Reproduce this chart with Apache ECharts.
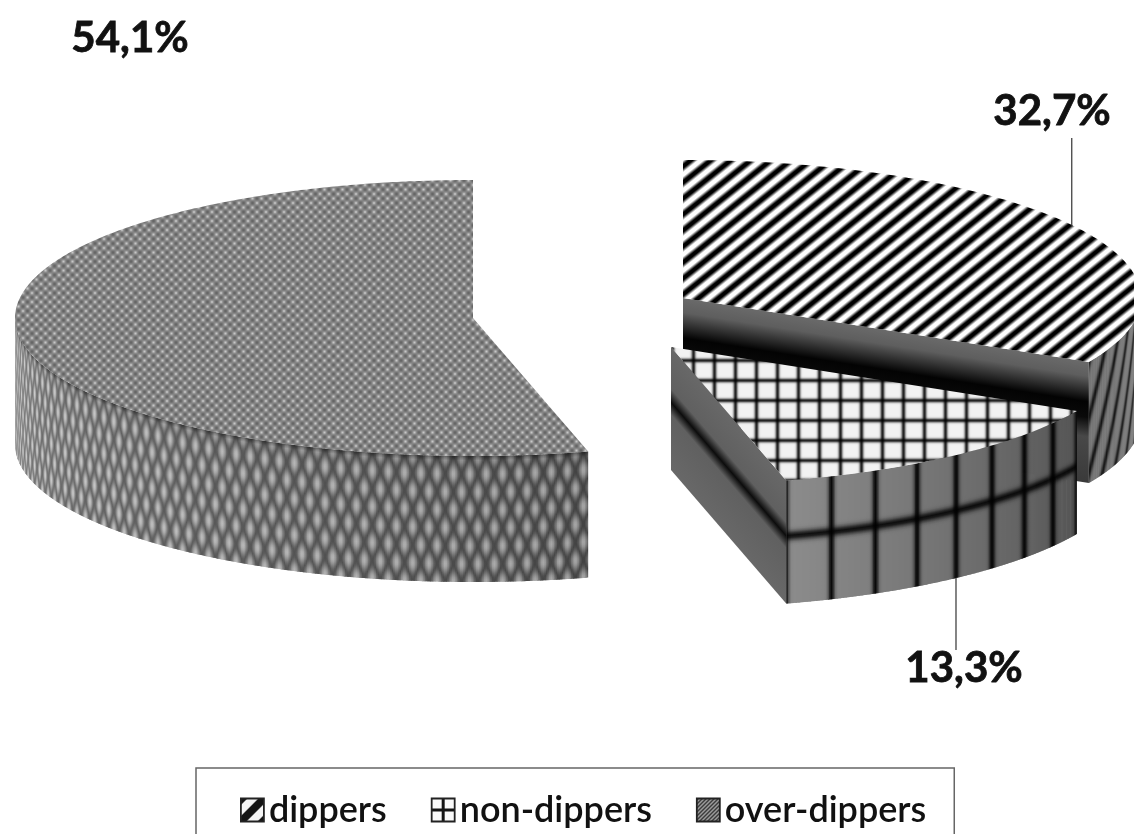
<!DOCTYPE html>
<html>
<head>
<meta charset="utf-8">
<style>html,body{margin:0;padding:0;background:#fff}#chart{width:1134px;height:834px}</style>
<script src="https://cdn.jsdelivr.net/npm/echarts@6/dist/echarts.min.js"></script>
</head>
<body>
<div id="chart"></div>
<script>
// Dipping status shares, in percent
const categories = ['dippers', 'non-dippers', 'over-dippers'];
const shares = [32.7, 13.3, 54.1];

// Exploded 3D pie layout: shared ellipse radii, one hub and wall depth per slice
const RX = 458, RY = 138;
const hubs = [[683, 298], [671, 347], [473, 318]];
const depths = [121, 123, 126];
// Percentage label centres and the x nudge of the leader lines
const labelSpots = [[1052, 111], [964, 668], [130, 38]];
const leaderNudge = [-3, 0, null];
const LABEL_FONT = 'bold 42px Lato';

const total = shares.reduce((a, b) => a + b, 0);
const sweep = shares.map(s => s / total * 360);
const starts = sweep.map((_, i) => sweep.slice(0, i).reduce((a, b) => a + b, 0));
const rad = d => d * Math.PI / 180;
const clamp = (x, a, b) => Math.max(a, Math.min(b, x));
const gauss = (d, s) => Math.exp(-(d * d) / (s * s));
const grey = g => { const c = Math.round(clamp(g, 0, 255)); return `rgb(${c},${c},${c})`; };

// Builds a repeating fill from a per-pixel grey function
function tile(w, h, fn) {
  const c = document.createElement('canvas');
  c.width = w; c.height = h;
  const ctx = c.getContext('2d');
  const img = ctx.createImageData(w, h);
  for (let y = 0; y < h; y++) for (let x = 0; x < w; x++) {
    const g = clamp(fn(x, y), 0, 255), k = (y * w + x) * 4;
    img.data[k] = img.data[k + 1] = img.data[k + 2] = g; img.data[k + 3] = 255;
  }
  ctx.putImageData(img, 0, 0);
  return { image: c, repeat: 'repeat' };
}
const stripeFill = tile(100, 80, (x, y) => {
  const s = Math.cos(2 * Math.PI * (x / 20 + y / 16));
  return 135 + 170 * s;
});
const gridFill = tile(21, 20, (x, y) => {
  const dx = Math.min(x, 21 - x), dy = Math.min(y, 20 - y);
  return 242 * (1 - 0.85 * gauss(dx, 2.1)) * (1 - 0.85 * gauss(dy, 2.1));
});
const dotFill = tile(9, 9, (x, y) => {
  const c = Math.cos(2 * Math.PI * x / 9) * Math.cos(2 * Math.PI * y / 9);
  return 132 + 32 * c + 34 * Math.pow(Math.max(c, 0), 3);
});
const topFills = [stripeFill, gridFill, dotFill];

// Wall shading as grey level for rim angle a (degrees) and height fraction v
const wallShaders = [
  (a, v) => {
    const u = (a - 10 * v - 117.6) / 4.6;
    const d = u - Math.round(u);
    return 118 - 100 * gauss(d, 0.17);
  },
  (a, v) => {
    const base = 140 - 55 * (165.5 - a) / 47.8;
    const u = (165.5 - a) / 6;
    const px = Math.abs(u - Math.round(u)) * 6 * rad(1) * RX * Math.abs(Math.cos(rad(a)));
    const line = gauss(px, 3.2), band = gauss((v - 0.45) * 123, 4.6);
    return base * (1 - 0.93 * line) * (1 - 0.9 * band);
  },
  (a, v) => {
    const u = a / 2.05, w = v * 3.5;
    const m = Math.abs(Math.sin(Math.PI * (u + w)) * Math.sin(Math.PI * (u - w)));
    const dark = 66 + 46 * (a - 165) / 105;
    const rim = 1 - 0.45 * gauss(v * 126, 3);
    return (dark + 100 * Math.pow(m, 1.2)) * rim;
  }
];
const cutStops = [
  [[0, '#6a6a6a'], [0.12, '#5e5e5e'], [0.33, '#030303'], [0.46, '#0a0a0a'], [0.62, '#484848'], [1, '#3a3a3a']],
  [[0, '#686868'], [0.34, '#606060'], [0.45, '#0c0c0c'], [0.55, '#606060'], [1, '#686868']]
];

function rimPoint(i, a) {
  return [hubs[i][0] + RX * Math.sin(rad(a)), hubs[i][1] - RY * Math.cos(rad(a))];
}

// One wall strip per small rim step, shaded with a vertical gradient
function wallStrips(i, from, to) {
  const out = [], step = 0.2, samples = 56, h = depths[i], shade = wallShaders[i];
  for (let a = from; a < to; a += step) {
    const p = rimPoint(i, a), q = rimPoint(i, Math.min(a + step * 1.8, to));
    const y0 = (p[1] + q[1]) / 2, stops = [];
    for (let s = 0; s <= samples; s++) {
      stops.push({ offset: s / samples, color: grey(shade(a + step / 2, s / samples)) });
    }
    out.push({
      type: 'polygon',
      shape: { points: [p, q, [q[0], q[1] + h], [p[0], p[1] + h]] },
      style: { fill: new echarts.graphic.LinearGradient(p[0], y0, p[0], y0 + h, stops, true) }
    });
  }
  return out;
}

// Radial cut face, with its gradient running across the sloped edge
function cutFace(i, a, stops) {
  const h = depths[i], p0 = hubs[i], p1 = rimPoint(i, a);
  const ex = p1[0] - p0[0], ey = p1[1] - p0[1], len2 = ex * ex + ey * ey;
  const k = h * ex / len2;
  const gx = -k * ey, gy = k * ex;
  return {
    type: 'polygon',
    shape: { points: [p0, p1, [p1[0], p1[1] + h], [p0[0], p0[1] + h]] },
    style: {
      fill: new echarts.graphic.LinearGradient(p0[0], p0[1], p0[0] + gx, p0[1] + gy,
        stops.map(s => ({ offset: s[0], color: s[1] })), true)
    }
  };
}

function renderSlice(params, api) {
  const i = params.seriesIndex, value = api.value(0);
  const start = starts[i], end = start + value / total * 360, mid = (start + end) / 2;
  const kids = [];

  // Rim walls face the viewer between 90 and 270 degrees
  const wallFrom = Math.max(start, 90), wallTo = Math.min(end, 270);
  if (wallTo > wallFrom) kids.push(...wallStrips(i, wallFrom, wallTo));
  if (i < 2) kids.push(cutFace(i, end, cutStops[i]));

  const top = [hubs[i]];
  for (let a = start; a <= end + 1e-6; a += 0.5) top.push(rimPoint(i, a));
  top.push(rimPoint(i, end));
  kids.push({ type: 'polygon', shape: { points: top }, style: { fill: topFills[i] } });

  // Leader line from the rim at the slice's middle angle to its label
  if (leaderNudge[i] !== null) {
    const r = rimPoint(i, mid), x = r[0] + leaderNudge[i];
    const front = Math.cos(rad(mid)) < 0;
    const y0 = front ? r[1] + depths[i] : r[1];
    const y1 = front ? labelSpots[i][1] - 18 : labelSpots[i][1] + 27;
    kids.push({
      type: 'line',
      shape: { x1: x, y1: y0, x2: x, y2: y1 },
      style: { stroke: '#333', lineWidth: 1.2 }
    });
  }
  kids.push({
    type: 'text',
    style: {
      text: value.toFixed(1).replace('.', ',') + '%',
      x: labelSpots[i][0], y: labelSpots[i][1],
      font: LABEL_FONT, fill: '#111', stroke: '#111', lineWidth: 0.8,
      align: 'center', verticalAlign: 'middle'
    }
  });
  return { type: 'group', children: kids };
}

// Legend swatches
const swatchFills = [
  tile(22, 22, (x, y) => {
    const s = Math.cos(2 * Math.PI * (x + y) / 22);
    return s > 0 ? 20 : 245;
  }),
  tile(23, 23, (x, y) => (Math.abs(x - 11) < 1.2 || Math.abs(y - 11) < 1.2 ? 20 : 250)),
  tile(4, 4, (x, y) => ((x + y) % 4 < 2 ? 50 : 165))
];

const chart = echarts.init(document.getElementById('chart'), null, { renderer: 'canvas' });
chart.setOption({
  animation: false,
  backgroundColor: '#fff',
  legend: {
    left: 196, top: 768,
    padding: [20, 28, 30, 44],
    itemWidth: 23, itemHeight: 23, itemGap: 44,
    selectedMode: false,
    borderColor: '#666', borderWidth: 1.5,
    textStyle: { fontFamily: 'Lato', fontWeight: 600, fontSize: 36, color: '#111', lineHeight: 44 },
    data: categories.map((name, i) => ({
      name, icon: 'rect',
      itemStyle: { color: swatchFills[i], borderColor: '#222', borderWidth: 1.8 }
    }))
  },
  series: categories.map((name, i) => ({
    type: 'custom',
    name,
    coordinateSystem: 'none',
    z: [2, 3, 1][i],
    silent: true,
    renderItem: renderSlice,
    data: [[shares[i]]]
  }))
});
</script>
</body>
</html>
